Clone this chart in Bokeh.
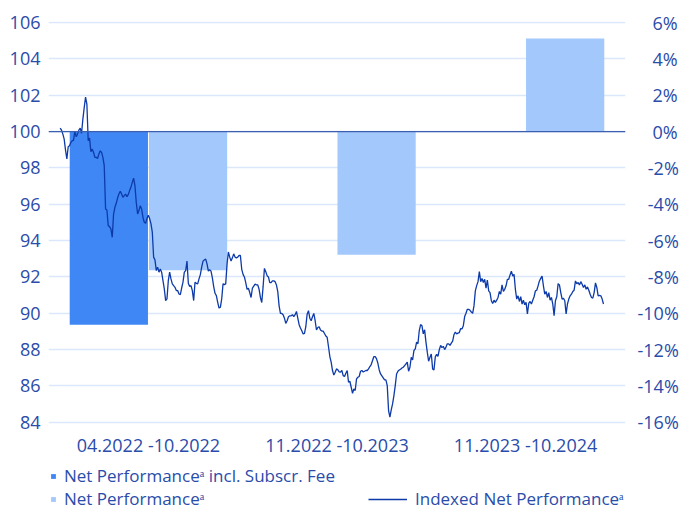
import numpy as np
from bokeh.plotting import figure
from bokeh.models import (Range1d, LinearAxis, Span, Legend, LegendItem,
                          FixedTicker, ColumnDataSource)
from bokeh.embed import file_html
from bokeh.resources import INLINE

# ---------------- data ----------------
periods = ["04.2022 -10.2022", "11.2022 -10.2023", "11.2023 -10.2024"]
net_perf_incl_fee = [-10.63, np.nan, np.nan]      # % per period
net_perf = [-7.63, -6.78, 5.12]                    # % per period

index_ticks = [84, 86, 88, 90, 92, 94, 96, 98, 100, 102, 104, 106]
pct_ticks = [-16, -14, -12, -10, -8, -6, -4, -2, 0, 2, 4, 6]

indexed_net_performance = [
    100.19, 100.08, 99.86, 99.58, 98.98, 98.49, 99.16, 99.22, 99.40, 99.49, 99.53, 100.01, 99.71,
    99.86, 100.08, 100.19, 99.90, 100.68, 101.32, 101.90, 101.51, 99.49, 99.64, 98.89, 99.03, 98.85,
    98.58, 98.58, 98.52, 98.76, 98.94, 98.85, 98.58, 98.12, 95.74, 95.68, 94.82, 94.77, 94.64, 94.18,
    95.46, 95.83, 96.05, 96.34, 96.56, 96.71, 96.56, 96.38, 96.47, 96.56, 96.42, 96.53, 96.75, 96.93,
    97.20, 97.44, 97.02, 96.10, 95.46, 95.65, 95.92, 95.74, 95.28, 95.01, 94.95,
    95.21, 95.39, 95.21, 94.93, 94.47, 93.09, 92.94, 92.35, 92.54, 92.26, 92.44, 92.26, 91.80, 91.34,
    90.70, 90.79, 91.80, 92.26, 91.89, 91.62, 91.52, 91.43, 91.25, 91.25, 91.06, 91.03, 91.39, 91.71,
    92.26, 92.35, 92.87, 91.65, 91.47, 91.52, 91.25, 90.70, 91.71, 91.65, 91.62, 91.89, 92.13, 92.54,
    92.87, 92.94, 92.98, 92.72, 92.32, 92.39, 92.32, 91.95, 91.47, 91.10, 90.97, 90.60, 90.29, 90.33,
    90.79, 91.62, 91.58, 91.62, 92.72, 93.37, 93.09, 92.87, 93.05, 93.27, 93.09, 93.05, 93.09, 93.18,
    93.18,
    92.42, 92.14, 92.00, 91.69, 91.32, 91.38, 91.14, 90.87, 91.39, 91.50, 91.61, 91.56, 91.56, 91.32,
    90.87, 90.59, 91.45, 92.47, 92.29, 92.07, 92.00, 91.69, 91.69, 91.78, 91.78, 91.74, 91.56, 91.19,
    90.41, 89.99, 89.99, 89.92, 89.73, 89.44, 89.59, 89.81, 89.86, 89.86, 89.92, 89.81, 89.92, 90.10,
    89.73, 89.37, 89.19, 89.04, 88.86, 88.89, 89.26, 89.95, 90.14, 89.73, 89.59, 89.81, 89.99, 89.59,
    89.08, 89.22, 89.26, 89.08, 89.02, 89.02, 88.89, 88.75, 88.68, 88.16, 87.62, 87.31, 86.85, 86.60,
    86.76, 86.94, 86.89, 86.78,
    86.76, 86.85, 86.57, 86.52, 86.70, 86.85, 86.21, 86.26, 85.93, 85.60, 85.84, 85.75, 86.39, 86.48,
    86.52, 86.81, 86.85, 86.77, 86.81, 86.85, 86.85, 86.94, 87.07, 87.18, 87.40, 87.62, 87.62, 87.49,
    87.25, 86.88, 86.66, 86.55, 86.44, 86.33, 86.33, 86.02, 84.65, 84.28, 84.68, 85.01, 85.47, 86.02,
    86.66, 86.81, 86.88, 86.92, 86.99, 87.03, 87.12, 87.21, 87.31, 86.81, 87.03, 87.58, 87.43, 87.95,
    88.04, 88.41, 88.32, 89.05, 89.38, 89.32, 88.87, 89.09, 88.41, 87.86, 87.36, 87.58, 87.76, 86.94,
    86.88,
    87.60, 87.74, 87.63, 88.00, 88.23, 88.11, 88.18, 88.00, 88.14, 88.32, 88.32, 88.23, 88.36, 88.47,
    88.83, 88.96, 88.87, 88.91, 88.94, 89.16, 89.14, 89.32, 89.82, 90.00, 90.22, 90.22, 90.16, 90.07,
    90.00, 90.42, 91.23, 91.52, 91.74, 92.29, 91.74, 91.92, 91.69, 91.87, 91.38, 91.82, 91.23, 91.14,
    90.69, 90.54, 90.72, 90.60, 90.72, 90.87, 91.20, 91.05, 91.56, 91.20, 91.32, 91.51, 91.87, 91.87,
    92.11, 92.32, 92.05, 92.14, 91.32,
    90.78, 90.96, 90.65, 90.91, 90.51, 90.72, 90.47, 90.60, 89.96, 90.54, 90.65, 90.51, 90.72, 90.91,
    91.23, 91.27, 91.51, 91.78, 91.92, 92.05, 91.51, 91.05, 91.20, 90.87, 91.14, 90.72, 90.87, 90.51,
    89.87, 90.69, 90.91, 91.63, 91.56, 91.14, 90.78, 90.83, 90.69, 89.96, 90.51, 90.78, 90.96, 91.05,
    91.20, 91.27, 91.78, 91.63, 91.69, 91.56, 91.74, 91.60, 91.42, 91.56, 91.32, 91.45, 91.27, 91.05,
    90.87, 90.83, 91.14, 91.67, 91.42, 90.96, 90.98, 90.96, 90.78, 90.51,
]

label_fee = "Net Performance\u1d43 incl. Subscr. Fee"
label_net = "Net Performance\u1d43"
label_idx = "Indexed Net Performance\u1d43"

# ---------------- style ----------------
FONT = "Open Sans"
TXT = "#2a4caa"
DARK = "#3f87f5"
LIGHT = "#a3c9fc"
LINE = "#0d3aa9"
GRID = "#dbe8fb"
ZERO = "#3d5fb0"

W, H = 684, 511
TOP, LEFT, RIGHT = 21, 48, 59
N = len(indexed_net_performance)
t = np.arange(N)
cat = np.arange(len(periods))
BAR_W = 0.415
BAR_OFF = 0.21

# vertical scale: 2 index points per gridline, gridlines 106..84 over 399 px
unit_px = 399 / (index_ticks[-1] - index_ticks[0])
y_top = index_ticks[-1] + 1 / unit_px
y_bot = index_ticks[0] - (H - 422) / unit_px      # frame runs to the bottom (legend inside)

p = figure(width=W, height=H,
           x_range=Range1d(-0.53, len(periods) - 0.47),
           y_range=Range1d(y_bot, y_top),
           output_backend="svg", toolbar_location=None,
           min_border_left=LEFT, min_border_right=RIGHT, min_border_top=TOP, min_border_bottom=0)
p.outline_line_color = None
p.background_fill_color = "white"
p.border_fill_color = "white"

p.extra_y_ranges = {"pct": Range1d(y_bot - 100, y_top - 100)}
p.extra_x_ranges = {"t": Range1d(-0.0215 * (N - 1), 1.0405 * (N - 1))}


def pad(v):
    s = f"{v}%"
    if v >= 0:
        s = "\u2008" + s
    if abs(v) < 10:
        s = "\u2007" + s
    return s


ra = LinearAxis(y_range_name="pct", ticker=FixedTicker(ticks=pct_ticks))
ra.major_label_overrides = {v: pad(v) for v in pct_ticks}
p.add_layout(ra, "right")

p.xaxis.ticker = FixedTicker(ticks=list(cat))
p.xaxis.major_label_overrides = {int(i): name for i, name in zip(cat, periods)}
p.xaxis.fixed_location = index_ticks[0] - 1 / unit_px

p.yaxis[0].ticker = FixedTicker(ticks=index_ticks)
for ax in list(p.yaxis) + list(p.xaxis):
    ax.axis_line_color = None
    ax.major_tick_line_color = None
    ax.minor_tick_line_color = None
    ax.major_tick_out = 0
    ax.major_tick_in = 0
    ax.major_label_text_font = FONT
    ax.major_label_text_font_size = "18px"
    ax.major_label_text_color = TXT
p.yaxis[0].major_label_standoff = 8
ra.major_label_standoff = 12
p.xaxis.major_label_standoff = 10

p.xgrid.visible = False
p.ygrid.ticker = FixedTicker(ticks=index_ticks)
p.ygrid.grid_line_color = GRID
p.ygrid.grid_line_width = 1.5

src = ColumnDataSource(dict(xf=cat - BAR_OFF, xn=cat + BAR_OFF,
                            fee=net_perf_incl_fee, net=net_perf))
r_fee = p.vbar(x="xf", top="fee", bottom=0, width=BAR_W,
               source=src, y_range_name="pct", fill_color=DARK, line_color=None)
r_net = p.vbar(x="xn", top="net", bottom=0, width=BAR_W,
               source=src, y_range_name="pct", fill_color=LIGHT, line_color=None)

p.add_layout(Span(location=0, dimension="width", y_range_name="pct",
                  line_color=ZERO, line_width=1.3))

r_line = p.line(x=t, y=indexed_net_performance, x_range_name="t",
                line_color=LINE, line_width=1.3)

common = dict(orientation="vertical", spacing=0, padding=0, margin=0,
              border_line_color=None, background_fill_alpha=0, label_height=22,
              label_text_font=FONT, label_text_font_size="17px", label_text_color=TXT)
leg1 = Legend(items=[LegendItem(label=label_fee, renderers=[r_fee]),
                     LegendItem(label=label_net, renderers=[r_net])],
              location=(2, 1), glyph_width=6, glyph_height=6, label_standoff=8, **common)
leg2 = Legend(items=[LegendItem(label=label_idx, renderers=[r_line])],
              location=(320, 1), glyph_width=39, glyph_height=6, label_standoff=8, **common)
p.add_layout(leg1)
p.add_layout(leg2)

open("out.html", "w").write(file_html(p, INLINE, title="chart"))
